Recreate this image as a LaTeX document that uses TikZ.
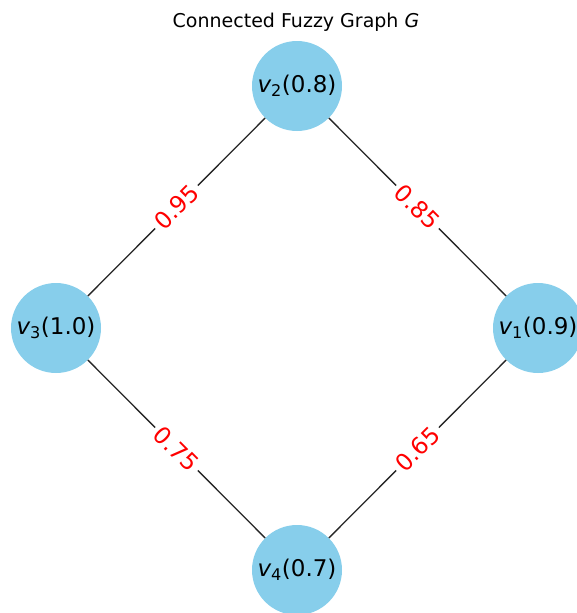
\documentclass[tikz,border=0pt]{standalone}
\usepackage{fontspec}
\setmainfont{DejaVu Sans}
\usepackage{tikz}

\begin{document}
\begin{tikzpicture}[x=1pt,y=-1pt,
  vertex/.style={circle, fill=nodeBlue, draw=none, minimum size=90pt, inner sep=0pt,
    font=\fontsize{23}{26}\selectfont},
  weight/.style={fill=white, inner xsep=4pt, inner ysep=1pt, text=red, sloped,
    font=\fontsize{23.5}{26}\selectfont},
  link/.style={draw=black!85, line width=1.3pt}]

% Colori
\definecolor{nodeBlue}{HTML}{87CEEB}

% Area del disegno
\useasboundingbox (0,0) rectangle (577,613);

% Titolo
\node[anchor=base, font=\fontsize{19}{22}\selectfont] (title) at (296,27.5)
  {Connected Fuzzy Graph {\itshape G}};

% Vertici
\node[vertex] (v1) at (538,328) {{\itshape v}\textsubscript{1}(0.9)};
\node[vertex] (v2) at (297,86)  {{\itshape v}\textsubscript{2}(0.8)};
\node[vertex] (v3) at (56,328)  {{\itshape v}\textsubscript{3}(1.0)};
\node[vertex] (v4) at (297,570) {{\itshape v}\textsubscript{4}(0.7)};

% Archi con pesi
\draw[link] (v3) -- node[weight] (w32) {0.95} (v2);
\draw[link] (v2) -- node[weight] (w21) {0.85} (v1);
\draw[link] (v3) -- node[weight] (w34) {0.75} (v4);
\draw[link] (v4) -- node[weight] (w41) {0.65} (v1);

\end{tikzpicture}
\end{document}
